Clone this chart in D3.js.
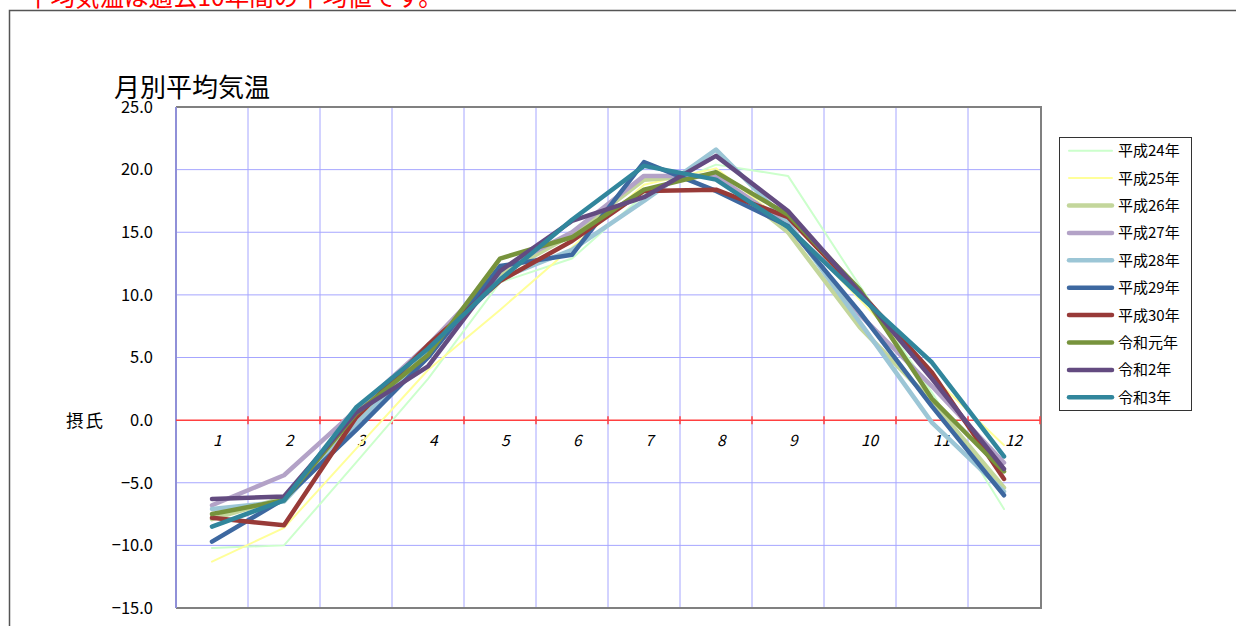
<!DOCTYPE html>
<html><head><meta charset="utf-8">
<script src="https://cdn.jsdelivr.net/npm/d3@7"></script>
<style>body{margin:0;background:#fff} svg{display:block}</style>
</head><body><svg id="c" width="1236" height="626"></svg>
<script>
const months = ["1","2","3","4","5","6","7","8","9","10","11","12"];
const seriesNames = ["平成24年","平成25年","平成26年","平成27年","平成28年","平成29年","平成30年","令和元年","令和2年","令和3年"];
const h24 = [-10.2, -10.0, -3.4, 3.3, 11.0, 12.9, 18.0, 20.4, 19.5, 10.7, 2.2, -7.1];
const h25 = [-11.3, -8.6, -2.3, 4.0, 8.8, 13.8, 18.8, 20.1, 15.6, 9.6, 3.5, -2.0];
const h26 = [-7.9, -6.2, 0.2, 5.3, 11.6, 14.8, 19.2, 19.6, 15.0, 7.4, 1.5, -5.4];
const h27 = [-6.8, -4.4, 0.8, 6.0, 12.0, 15.0, 19.5, 19.5, 15.6, 8.4, 2.7, -3.4];
const h28 = [-7.1, -6.5, -0.3, 5.3, 11.3, 13.6, 17.5, 21.6, 15.8, 7.8, -0.2, -5.7];
const h29 = [-9.7, -6.3, -0.8, 5.0, 12.3, 13.2, 20.6, 18.3, 15.5, 8.6, 1.1, -6.0];
const h30 = [-7.8, -8.4, 0.2, 6.0, 11.1, 14.3, 18.3, 18.4, 16.2, 10.2, 3.8, -4.7];
const r1 = [-7.5, -6.4, 0.5, 5.2, 12.9, 14.6, 18.4, 19.8, 16.4, 10.4, 1.7, -4.1];
const r2 = [-6.3, -6.1, 0.6, 4.3, 11.9, 15.9, 17.8, 21.1, 16.7, 10.2, 3.3, -3.9];
const r3 = [-8.5, -6.4, 1.0, 5.7, 11.2, 16.0, 20.3, 19.2, 15.4, 9.9, 4.6, -2.9];
const yTicks = [-15, -10, -5, 0, 5, 10, 15, 20, 25];

const seriesValues = [h24,h25,h26,h27,h28,h29,h30,r1,r2,r3];
const colors = ["#ccffcc","#ffff99","#c3d69b","#b3a2c7","#9cc6d6","#3d68a0","#983a38","#77933c","#634b80","#31869c"];
const widths = [2,2,4.5,4.5,4.5,4.5,4.5,4.5,4.5,4.5];

const FONT = "'Noto Sans CJK JP', sans-serif";
const svg = d3.select("#c").attr("font-family", FONT);

// outer frame
svg.append("path").attr("d","M9.5,626 V10.5 H1236").attr("fill","none").attr("stroke","#555").attr("stroke-width",1.5);
// header note
svg.append("text").attr("x",26).attr("y",6).attr("fill","#ff0000").attr("font-size",24.5).text("平均気温は過去10年間の平均値です。");
// title
svg.append("text").attr("x",114).attr("y",97).attr("fill","#000").attr("font-size",26).text("月別平均気温");

const x = d3.scaleBand().domain(months).range([176,1040]);
const y = d3.scaleLinear().domain([-15,25]).range([608,107]);

// gridlines horizontal
svg.append("g").selectAll("line").data(yTicks.filter(v => v!==0 && v!==25 && v!==-15)).join("line")
  .attr("x1",176).attr("x2",1040).attr("y1",d=>y(d)).attr("y2",d=>y(d))
  .attr("stroke","#a6a6ff").attr("stroke-width",1);
// gridlines vertical
svg.append("g").selectAll("line").data(months.slice(1)).join("line")
  .attr("x1",d=>x(d)).attr("x2",d=>x(d)).attr("y1",y(25)).attr("y2",y(-15))
  .attr("stroke","#a6a6ff").attr("stroke-width",1);

// plot border
svg.append("path").attr("d",`M${x.range()[0]},${y(25)} H${x.range()[1]+1} V${y(-15)} H${x.range()[0]}`)
  .attr("fill","none").attr("stroke","#808080").attr("stroke-width",2);
svg.append("line").attr("x1",176).attr("x2",176).attr("y1",y(25)).attr("y2",y(-15)).attr("stroke","#9090d8").attr("stroke-width",2);

// zero axis (red) with ticks
svg.append("line").attr("x1",176).attr("x2",1041).attr("y1",y(0)).attr("y2",y(0)).attr("stroke","#ff4040").attr("stroke-width",1.5);
svg.append("g").selectAll("line").data(months.slice(1).concat(["end"])).join("line")
  .attr("x1",d=> d==="end"?1040:x(d)).attr("x2",d=> d==="end"?1040:x(d))
  .attr("y1",y(0)-4).attr("y2",y(0)+4).attr("stroke","#ff4040").attr("stroke-width",1.5);

// y axis labels
const yAxis = d3.axisLeft(y).tickValues(yTicks).tickFormat(d3.format(".1f")).tickSize(0).tickPadding(23);
const ya = svg.append("g").attr("transform","translate(176,0)").call(yAxis);
ya.select(".domain").remove();
ya.selectAll("text").attr("font-size",16.5).attr("font-family",FONT).attr("fill","#000");
svg.append("text").attr("x",66).attr("y",y(0)+7).attr("font-size",17.5).attr("letter-spacing",2).attr("fill","#000").text("摂氏");

// x category labels
const xAxis = d3.axisBottom(x).tickSize(0).tickPadding(0);
const xa = svg.append("g").attr("transform",`translate(0,${y(0)})`).call(xAxis);
xa.select(".domain").remove();
xa.selectAll("text").attr("font-size",15.5).attr("font-style","italic").attr("font-family",FONT).attr("fill","#000")
  .attr("y",15).attr("dy","0.71em").attr("text-anchor","start").attr("dx",1);

// lines
const line = d3.line().x((d,i)=>x(months[i])+x.bandwidth()/2).y(d=>y(d)).curve(d3.curveLinear);
svg.append("g").selectAll("path").data(seriesValues).join("path")
  .attr("d",line).attr("fill","none")
  .attr("stroke",(d,i)=>colors[i]).attr("stroke-width",(d,i)=>widths[i])
  .attr("stroke-linejoin","round").attr("stroke-linecap","round");

// legend
const lg = svg.append("g");
lg.append("rect").attr("x",1059.5).attr("y",137.5).attr("width",132).attr("height",273)
  .attr("fill","#fff").attr("stroke","#333").attr("stroke-width",1);
const rowY = i => 150.7 + i*27.4;
lg.selectAll("line").data(seriesNames).join("line")
  .attr("x1",1069).attr("x2",1112).attr("y1",(d,i)=>rowY(i)).attr("y2",(d,i)=>rowY(i))
  .attr("stroke",(d,i)=>colors[i]).attr("stroke-width",(d,i)=>widths[i]).attr("stroke-linecap","round");
lg.selectAll("text").data(seriesNames).join("text")
  .attr("x",1118).attr("y",(d,i)=>rowY(i)+5.5).attr("font-size",15).attr("fill","#000").text(d=>d);
</script>
</body></html>
